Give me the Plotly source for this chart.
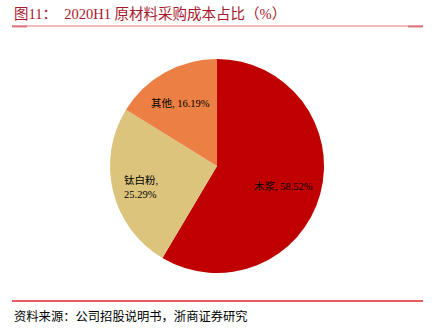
import math
import plotly.graph_objects as go

W, H = 432, 329

labels = ["木浆", "钛白粉", "其他"]
values = [58.52, 25.29, 16.19]
colors = ["#C00000", "#DCC47C", "#EC7F43"]
title_text = "图11：  2020H1 原材料采购成本占比（%）"
source_text = "资料来源：公司招股说明书，浙商证券研究"

def px(x):
    return x / W

def py(y):
    return 1 - y / H

cx, cy, r = 217, 166, 107

fig = go.Figure(go.Pie(
    labels=labels, values=values, sort=False, direction="clockwise", rotation=0,
    marker=dict(colors=colors, line=dict(width=0)),
    textinfo="none", hoverinfo="label+percent", showlegend=False,
    domain=dict(x=[px(cx - r), px(cx + r)], y=[py(cy + r), py(cy - r)]),
))

serif = "Liberation Serif, Noto Sans CJK SC, serif"
annotations = []
total = sum(values)
cum = 0
label_texts = {"木浆": "{l}, {v:.2f}%", "钛白粉": "{l},<br>{v:.2f}%", "其他": "{l}, {v:.2f}%"}
label_radius = {"木浆": 0.64, "钛白粉": 0.73, "其他": 0.70}
for lab, v in zip(labels, values):
    mid = (cum + v / 2) / total * 2 * math.pi
    cum += v
    lx = cx + label_radius[lab] * r * math.sin(mid)
    ly = cy - label_radius[lab] * r * math.cos(mid) + 2
    align = "left" if lab == "钛白粉" else "center"
    annotations.append(dict(
        x=px(lx), y=py(ly), xref="paper", yref="paper", showarrow=False,
        xanchor="center", yanchor="middle",
        text=label_texts[lab].format(l=lab, v=v), align=align,
        font=dict(family=serif, size=10.5, color="#000000"),
    ))

annotations.append(dict(x=px(12), y=py(14), xref="paper", yref="paper", xanchor="left",
                        yanchor="middle", showarrow=False, text=title_text,
                        font=dict(family=serif, size=14.5, color="#A8182C")))
annotations.append(dict(x=px(12), y=py(316), xref="paper", yref="paper", xanchor="left",
                        yanchor="middle", showarrow=False, text=source_text,
                        font=dict(family=serif, size=12.3, color="#000000")))

shapes = [
    dict(type="line", xref="paper", yref="paper", x0=px(12), x1=px(423), y0=py(26), y1=py(26),
         line=dict(color="#F2A3A8", width=1.3)),
    dict(type="line", xref="paper", yref="paper", x0=px(12), x1=px(27), y0=py(26.5), y1=py(26.5),
         line=dict(color="#D97378", width=1.8)),
    dict(type="line", xref="paper", yref="paper", x0=px(408), x1=px(423), y0=py(26.5), y1=py(26.5),
         line=dict(color="#D97378", width=1.8)),
    dict(type="line", xref="paper", yref="paper", x0=px(12), x1=px(423), y0=py(301), y1=py(301),
         line=dict(color="#E0262B", width=1.5)),
]

fig.update_layout(
    width=W, height=H, margin=dict(l=0, r=0, t=0, b=0),
    paper_bgcolor="white", plot_bgcolor="white",
    annotations=annotations, shapes=shapes,
)

fig.write_html("out.html")
